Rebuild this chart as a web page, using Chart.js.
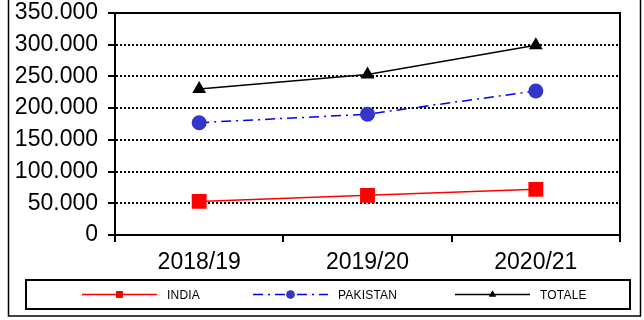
<!DOCTYPE html>
<html>
<head>
<meta charset="utf-8">
<script src="https://cdn.jsdelivr.net/npm/chart.js@4/dist/chart.umd.min.js"></script>
<style>
  html, body { margin: 0; padding: 0; background: #fff; }
  #wrap { width: 644px; height: 320px; }
</style>
</head>
<body>
<div id="wrap"><canvas id="myChart" width="644" height="320"></canvas></div>
<script>
var anni = ['2018/19', '2019/20', '2020/21'];
var india = [53000, 62500, 72000];
var pakistan = [177000, 190500, 227000];
var totale = [230000, 253000, 299000];
var yTicks = [0, 50000, 100000, 150000, 200000, 250000, 300000, 350000];

function puntini(n) {
  // 350000 -> "350.000"
  return String(n).replace(/\B(?=(\d{3})+(?!\d))/g, '.');
}

// cornice esterna, bordo del grafico e legenda con riquadro
var cornice = {
  id: 'cornice',
  beforeDraw: function (chart) {
    var ctx = chart.ctx;
    ctx.save();
    ctx.strokeStyle = '#000';
    ctx.lineWidth = 1.5;
    ctx.strokeRect(8.5, -3, 632, 319);
    ctx.restore();
  },
  afterDatasetsDraw: function (chart) {
    var ctx = chart.ctx;
    var a = chart.chartArea;
    ctx.save();
    ctx.strokeStyle = '#000';
    ctx.lineWidth = 2;
    ctx.setLineDash([]);
    ctx.beginPath();
    ctx.moveTo(a.left, a.bottom);
    ctx.lineTo(a.left, a.top);
    ctx.lineTo(a.right, a.top);
    ctx.lineTo(a.right, a.bottom);
    ctx.stroke();
    ctx.restore();
  },
  afterDraw: function (chart) {
    var ctx = chart.ctx;
    ctx.save();
    ctx.strokeStyle = '#000';
    ctx.lineWidth = 2;
    ctx.strokeRect(26, 280, 604, 29);

    var xs = [82, 253, 455];
    var y = 294.5;
    chart.data.datasets.forEach(function (ds, i) {
      var x = xs[i];
      ctx.strokeStyle = ds.borderColor;
      ctx.lineWidth = 1.5;
      ctx.setLineDash(ds.borderDash || []);
      ctx.beginPath();
      ctx.moveTo(x, y);
      ctx.lineTo(x + 75, y);
      ctx.stroke();
      ctx.setLineDash([]);
      Chart.helpers.drawPoint(ctx, {
        pointStyle: ds.pointStyle,
        radius: ds.pointStyle === 'rect' ? 4.5 : 4,
        borderWidth: 0
      }, x + 37.5, y);
      ctx.fillStyle = ds.pointBackgroundColor;
      ctx.fill();
      ctx.fillStyle = '#000';
      ctx.font = '12px "Liberation Sans", Arial, sans-serif';
      ctx.letterSpacing = '0.2px';
      ctx.textBaseline = 'middle';
      ctx.fillText(ds.label, x + 85, y + 1);
    });
    ctx.restore();
  }
};

var ctx = document.getElementById('myChart').getContext('2d');
var myChart = new Chart(ctx, {
  type: 'line',
  data: {
    labels: anni,
    datasets: [
      {
        label: 'INDIA',
        data: india,
        borderColor: '#ff0000',
        backgroundColor: '#ff0000',
        pointBackgroundColor: '#ff0000',
        borderWidth: 1.5,
        pointStyle: 'rect',
        pointRadius: 10.5,
        pointBorderWidth: 0
      },
      {
        label: 'PAKISTAN',
        data: pakistan,
        borderColor: '#0000ff',
        backgroundColor: '#3535cc',
        pointBackgroundColor: '#3535cc',
        borderWidth: 1.5,
        borderDash: [10, 5, 2, 5],
        pointStyle: 'circle',
        pointRadius: 7.5,
        pointBorderWidth: 0
      },
      {
        label: 'TOTALE',
        data: totale,
        borderColor: '#000000',
        backgroundColor: '#000000',
        pointBackgroundColor: '#000000',
        borderWidth: 1.5,
        pointStyle: 'triangle',
        pointRadius: 8,
        pointBorderWidth: 0
      }
    ]
  },
  options: {
    responsive: false,
    animation: false,
    layout: { padding: { left: 0, top: 13, right: 24, bottom: 0 } },
    plugins: {
      legend: { display: false },
      tooltip: { enabled: false }
    },
    scales: {
      x: {
        offset: true,
        afterFit: function (s) {
          s.height = 85;
          s.paddingLeft = 0;
          s.paddingRight = 0;
        },
        grid: {
          offset: true,
          drawOnChartArea: false,
          tickLength: 7,
          color: '#000',
          lineWidth: 2
        },
        border: { display: true, color: '#000', width: 2 },
        ticks: {
          color: '#000',
          padding: 7,
          autoSkip: false,
          maxRotation: 0,
          font: { family: '"Liberation Sans", Arial, sans-serif', size: 23 }
        }
      },
      y: {
        min: 0,
        max: 350000,
        afterFit: function (s) {
          s.width = 115;
          s.paddingTop = 0;
          s.paddingBottom = 0;
        },
        afterBuildTicks: function (s) {
          s.ticks = yTicks.map(function (v) { return { value: v }; });
        },
        grid: {
          color: function (c) {
            var v = c.tick ? c.tick.value : 0;
            return (v === 0 || v === 350000) ? 'rgba(0,0,0,0)' : '#000';
          },
          lineWidth: 2,
          tickLength: 7,
          tickColor: '#000',
          tickBorderDash: [],
          tickWidth: 2
        },
        border: { display: true, color: '#000', width: 2, dash: [2, 2] },
        ticks: {
          color: '#000',
          padding: 10,
          autoSkip: false,
          font: { family: '"Liberation Sans", Arial, sans-serif', size: 23 },
          callback: function (v) { return puntini(v); }
        }
      }
    }
  },
  plugins: [cornice]
});
</script>
</body>
</html>
